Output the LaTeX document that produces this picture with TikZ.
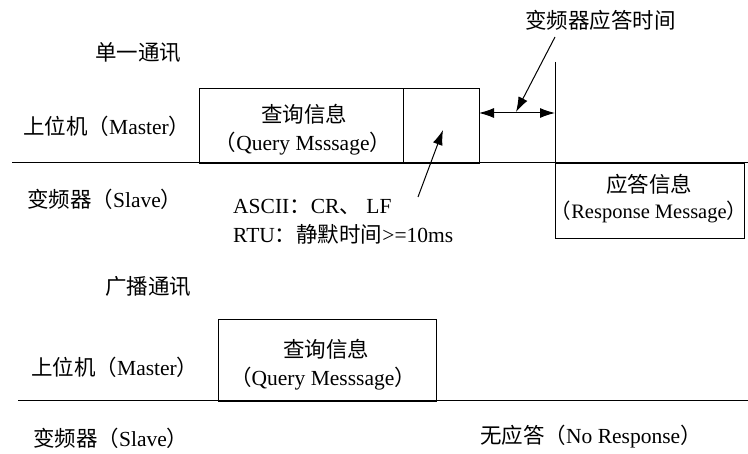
\documentclass[tikz,border=0pt]{standalone}
\usepackage{fontspec}
\setmainfont{Liberation Serif}
\newfontfamily\cjk{Noto Sans CJK SC}
\usetikzlibrary{arrows.meta}
\newcommand\zh[1]{{\cjk #1}}
\newcommand\lp{\kern-10pt{\cjk （}}
\newcommand\rp{{\cjk ）}\kern-10pt}
\begin{document}
\begin{tikzpicture}[x=1pt,y=-1pt,
  txt/.style={inner sep=0pt,font=\fontsize{21.5}{25}\selectfont},
  lt/.style={txt,anchor=base west},
  ct/.style={txt,anchor=base},
  frame/.style={draw,line width=1pt,inner sep=0pt,anchor=north west},
  ln/.style={line width=1pt},
  tip/.style={-{Latex[length=15pt,width=10pt]}},
  arr/.style={line width=1pt,tip},
  darr/.style={line width=1pt,{Latex[length=15pt,width=10pt]}-{Latex[length=15pt,width=10pt]}}]
\useasboundingbox (0,0) rectangle (748,454);

% ---------- top: single communication ----------
\node[lt] (t1) at (95,61) {\zh{单一通讯}};
\node[lt] (m1) at (23,135) {\zh{上位机（}Master\zh{）}};
\node[lt] (s1) at (27,208) {\zh{变频器（}Slave\zh{）}};

\coordinate (l1a) at (12,163);
\coordinate (l1b) at (748,163);
\draw[ln] (l1a) -- (l1b);

\node[frame,minimum width=204pt,minimum height=75pt] (q1) at (199,88) {};
\node[frame,minimum width=76pt,minimum height=75pt] (e1) at (403,88) {};
\node[ct] (q1a) at (304,123) {\zh{查询信息}};
\node[ct] (q1b) at (303,151) {\lp Query Msssage\rp};

\coordinate (vt) at (555,62);
\coordinate (vb) at (555,163);
\draw[ln] (vt) -- (vb);
\coordinate (dl) at (479,113);
\coordinate (dr) at (555,113);
\draw[darr] (dl) -- (dr);

\node[lt] (rt) at (525,29) {\zh{变频器应答时间}};
\coordinate (rta) at (555,37);
\coordinate (rtb) at (516,112);
\draw[arr] (rta) -- (rtb);

\node[frame,minimum width=189pt,minimum height=75pt] (r1) at (555,163) {};
\node[ct] (r1a) at (649,193) {\zh{应答信息}};
\node[ct,font=\fontsize{20.5}{24}\selectfont] (r1b) at (649,219) {\lp Response Message\rp};

\node[lt] (as) at (233,214) {ASCII\zh{：}CR\zh{、} LF};
\node[lt] (rtu) at (233,243) {RTU\zh{：静默时间}>=10ms};
\coordinate (ua) at (418,197);
\coordinate (ub) at (443,130);
\draw[arr] (ua) -- (ub);

% ---------- bottom: broadcast ----------
\node[lt] (t2) at (105,295) {\zh{广播通讯}};
\node[lt] (m2) at (31,376) {\zh{上位机（}Master\zh{）}};
\node[lt] (s2) at (33,447) {\zh{变频器（}Slave\zh{）}};

\coordinate (l2a) at (18,401);
\coordinate (l2b) at (748,401);
\draw[ln] (l2a) -- (l2b);

\node[frame,minimum width=218pt,minimum height=82pt] (q2) at (218,319) {};
\node[ct] (q2a) at (326,358) {\zh{查询信息}};
\node[ct] (q2b) at (323,386) {\lp Query Messsage\rp};

\node[lt] (nr) at (480,444) {\zh{无应答（}No Response\zh{）}};
\end{tikzpicture}
\end{document}
